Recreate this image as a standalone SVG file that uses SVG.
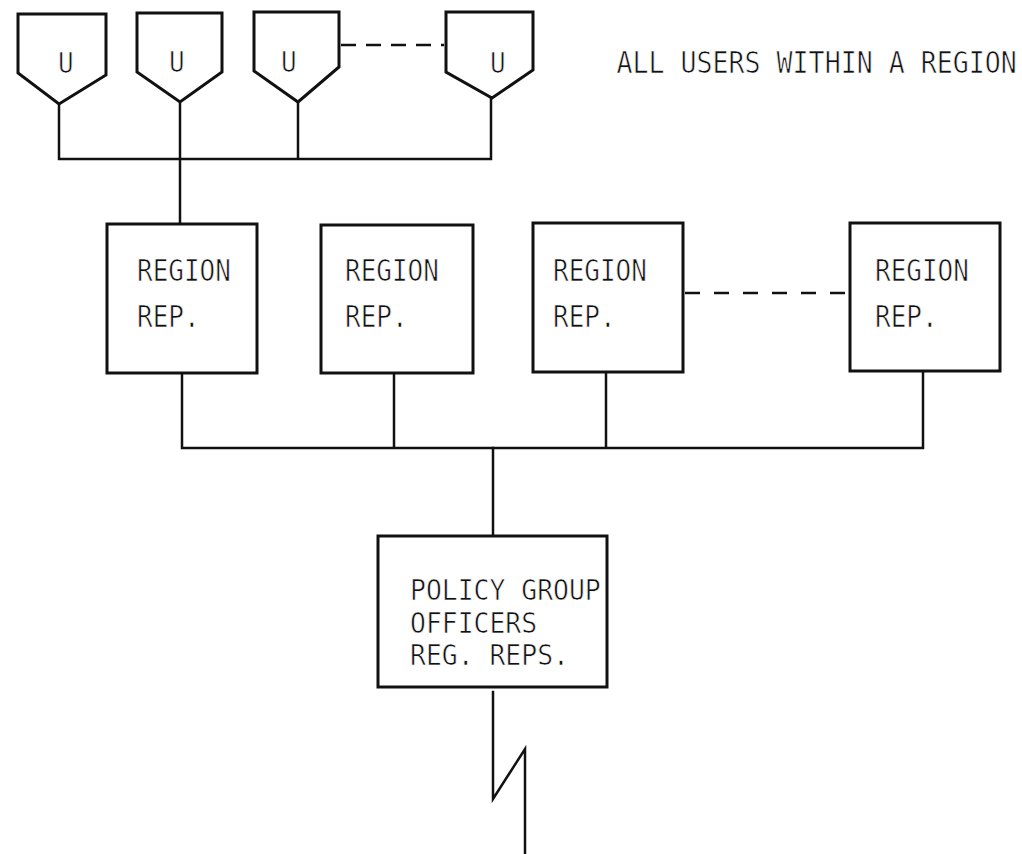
<svg xmlns="http://www.w3.org/2000/svg" width="1022" height="854" viewBox="0 0 1022 854">
  <style>
    .shape { fill: #fff; stroke: #111; stroke-width: 3; stroke-linejoin: miter; }
    .wire { fill: none; stroke: #111; stroke-width: 2.5; stroke-linecap: square; }
    .dash { fill: none; stroke: #111; stroke-width: 2.5; }
    .lbl { font-family: "DejaVu Sans Mono", "Liberation Mono", monospace; font-size: 26px; fill: #111; stroke: #fff; stroke-width: 0.6px; }
  </style>
  <rect width="1022" height="854" fill="#fff"/>

  <!-- connectors -->
  <g id="connectors">
    <!-- user stems and user bus -->
    <path class="wire" d="M59,104 V159 M180,102 V224 M298,102 V159 M491,98 V159 M59,159 H491"/>
    <path class="dash" d="M341,45 H444" stroke-dasharray="15 10"/>
    <!-- region rep stems and bus -->
    <path class="wire" d="M182,373 V448 M394,373 V448 M606,372 V448 M923,371 V448 M182,448 H923"/>
    <path class="dash" d="M685,293 H848" stroke-dasharray="15 14"/>
    <!-- to policy group -->
    <path class="wire" d="M493,448 V536"/>
    <!-- broken-line (lightning) link below policy group -->
    <path class="wire" d="M493,692 V799 L525,749 V854" stroke-linejoin="miter"/>
  </g>

  <!-- users -->
  <g id="user1">
    <path class="shape" d="M18,14 H106 V75 L59,104 L18,73 Z"/>
    <text class="lbl" transform="translate(58,73) scale(1,1.12)">U</text>
  </g>
  <g id="user2">
    <path class="shape" d="M137,13 H222 V72 L180,102 L137,72 Z"/>
    <text class="lbl" transform="translate(169,72) scale(1,1.12)">U</text>
  </g>
  <g id="user3">
    <path class="shape" d="M254,12 H339 V67 L298,102 L254,71 Z"/>
    <text class="lbl" transform="translate(281,72) scale(1,1.12)">U</text>
  </g>
  <g id="user4">
    <path class="shape" d="M446,12 H533 V70 L492,98 L446,72 Z"/>
    <text class="lbl" transform="translate(490,73) scale(1,1.12)">U</text>
  </g>
  <g id="users-caption">
    <text class="lbl" style="font-size:26.6px" transform="translate(616.5,73) scale(1,1.15)">ALL USERS WITHIN A REGION</text>
  </g>

  <!-- region representatives -->
  <g id="region1">
    <rect class="shape" x="107" y="224" width="150" height="149"/>
    <text class="lbl" transform="translate(137,281) scale(1,1.15)">REGION</text>
    <text class="lbl" transform="translate(137,327) scale(1,1.15)">REP.</text>
  </g>
  <g id="region2">
    <rect class="shape" x="321" y="225" width="152" height="148"/>
    <text class="lbl" transform="translate(345,281) scale(1,1.15)">REGION</text>
    <text class="lbl" transform="translate(345,327) scale(1,1.15)">REP.</text>
  </g>
  <g id="region3">
    <rect class="shape" x="533" y="223" width="150" height="149"/>
    <text class="lbl" transform="translate(553,281) scale(1,1.15)">REGION</text>
    <text class="lbl" transform="translate(553,327) scale(1,1.15)">REP.</text>
  </g>
  <g id="region4">
    <rect class="shape" x="850" y="223" width="150" height="148"/>
    <text class="lbl" transform="translate(875,281) scale(1,1.15)">REGION</text>
    <text class="lbl" transform="translate(875,327) scale(1,1.15)">REP.</text>
  </g>

  <!-- policy group -->
  <g id="policy-group">
    <rect class="shape" x="378" y="536" width="229" height="151"/>
    <text class="lbl" style="font-size:26.4px" transform="translate(410,600) scale(1,1.1)">POLICY GROUP</text>
    <text class="lbl" style="font-size:26.4px" transform="translate(410,633) scale(1,1.1)">OFFICERS</text>
    <text class="lbl" style="font-size:26.4px" transform="translate(410,665) scale(1,1.1)">REG. REPS.</text>
  </g>
</svg>
